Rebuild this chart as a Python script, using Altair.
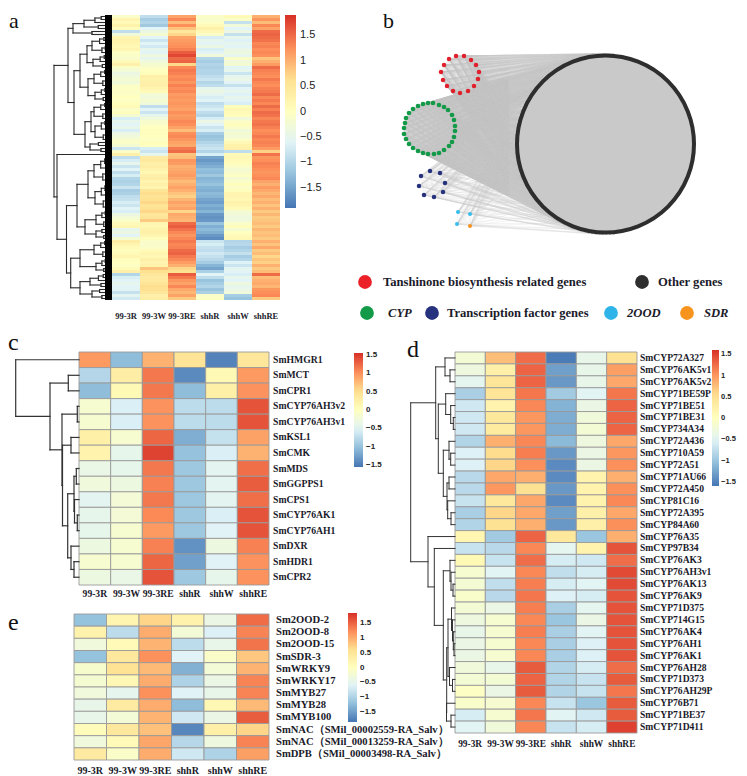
import math
import altair as alt
import pandas as pd

W, H = 731, 768
COLS = ["99-3R", "99-3W", "99-3RE", "shhR", "shhW", "shhRE"]
RAMP = ["#4575B4", "#91BFDB", "#E0F3F8", "#FFFFBF", "#FEE090", "#FC8D59", "#D73027"]
SERIF = "Liberation Serif"
SANS = "Liberation Sans"
LINE = "#333333"

# ---------- panel a : six columns, top to bottom ----------
a_c1 = [-.1,.2,.1,.25,.05,-.9,-.3,.2,.25,.2,
        .15,.2,-.05,-.1,-.15,.1,.3,-.1,-.25,-.4,
        -.3,-.2,-.3,-.1,-.05,-.1,-.05,0,-.05,.05,
        .1,-.1,.05,-.2,-.7,-.5,-.6,-.5,-.7,-.4,
        -.3,-.15,-.1,-.2,-.8,-.1,.3,-.9,-.7,-.5,
        -.8,-.6,-.9,-.7,-1.0,-1.05,-1.0,-.8,-1.1,-1.05,
        -.9,-.85,-.7,-.8,-.6,-.7,-.4,-.25,-.1,.1,
        .15,-.5,-.4,-.6,-.2,.35,.2,.1,.05,.1,
        .2,.05,0,-.05,.1,.3,-1.0,-.7,-.6,-.5,
        -.6,-.6,-.85,-.55,-.75]
a_c2 = [-.9,-1.1,-1.0,-1.15,-.6,-.4,-.2,-.6,-.8,-.6,
        -.75,-.5,-.6,-.35,-.5,-.3,-.2,-.1,0,.05,
        .3,.25,.3,.3,.2,.1,-.25,-.3,-.2,-.3,
        -.9,-.6,-.8,-.5,-.3,-.15,-.1,0,.05,.05,
        0,-.05,.05,0,-.7,-.8,-.5,.4,.45,.3,
        .35,.25,.15,.3,.35,.2,.3,.2,.55,.65,
        .55,.6,.7,.55,.6,.7,.5,.55,.8,.2,
        .15,.25,.3,.2,.05,-.1,-.15,-.1,.1,.2,
        .15,.3,.2,.25,.85,.6,.5,.4,.45,.55,
        .65,.6,.5,.3,.35]
a_c3 = [1.1,1.3,.9,1.25,.85,.5,.7,1.1,1.15,1.2,
        1.25,1.35,1.6,1.75,1.5,1.55,.7,1.3,1.4,1.35,
        1.25,1.3,1.2,1.35,1.25,1.3,1.15,1.2,1.15,1.2,
        1.15,1.1,1.25,1.15,1.2,1.3,1.25,1.1,.9,1.25,
        1.3,1.2,1.1,1.05,1.4,1.5,.85,.9,1.2,1.15,
        1.0,1.05,1.1,1.15,1.05,.9,1.0,1.1,1.0,.85,
        .75,.95,1.1,1.0,1.1,.7,1.05,1.0,.95,1.5,
        1.6,1.45,1.3,1.2,1.3,1.4,1.3,1.35,1.5,1.55,
        1.4,1.3,1.15,1.0,.7,.6,1.6,1.4,1.2,1.1,
        1.3,1.05,.95,1.1,.8]
a_c4 = [-.1,-.15,-.05,.1,.3,.15,-.1,-.7,-.5,-.6,
        -.4,-.7,-.6,-.3,-1.0,-1.1,-1.0,-1.05,-1.0,-1.0,
        -.9,-.8,-1.0,-.9,-.5,-.4,-.55,-.7,-.6,-.9,
        -.8,-.7,-.9,-1.0,-.7,-.4,-.6,-.8,-.7,-1.1,
        -1.2,-1.15,-1.0,-.9,-.8,-1.0,-.7,-1.5,-1.6,-1.5,
        -1.4,-1.25,-1.3,-1.15,-1.35,-1.3,-1.2,-1.35,-1.4,-1.3,
        -1.35,-1.5,-1.55,-1.4,-1.5,-1.35,-1.6,-1.65,-1.6,-1.2,
        -1.4,-1.3,-1.4,-1.6,-1.7,-.8,-.7,-.85,-.9,-.75,
        -.85,-.95,-1.1,-1.35,-1.5,-1.05,-.6,-.9,-1.2,-1.1,
        -1.0,-1.2,-1.05,-.1,-.05]
a_c5 = [.1,-.1,-.85,-.3,-.6,-.4,-.85,-.5,-.65,-.5,
        -.6,-.45,-.35,-.5,-.1,-.3,-.2,-.6,-.5,-.8,
        -.5,-.45,-.6,-.85,-.6,-.5,-.65,-.5,-.6,-.7,
        .05,.15,.1,.05,-.3,-.1,.05,-.1,-.3,-.2,
        -.25,-.1,.15,.25,.3,-.9,.1,.15,.1,.05,
        -.1,-.2,-.15,-.05,-.2,-.1,.05,-.1,.05,.2,
        .2,.15,.25,.2,.1,-.2,-.3,-.35,-.3,-.1,
        .05,-.2,0,.1,.15,-1.0,-.95,-1.1,-1.0,-.85,
        -1.1,-1.0,-.65,-.8,-.55,-.6,-.7,-.5,-.6,-.35,
        -.5,-.45,-.3,-1.1,-1.2]
a_c6 = [1.0,1.2,.9,1.3,1.1,1.5,1.55,1.5,1.45,1.3,
        1.35,1.25,1.3,1.25,.85,1.0,1.15,1.5,1.35,1.3,
        1.25,1.4,1.3,1.25,1.35,1.4,1.5,1.3,1.4,1.3,
        1.5,1.35,1.5,1.45,1.3,1.4,1.45,1.35,1.25,1.3,
        1.4,1.3,1.35,1.3,1.15,.75,1.45,1.2,1.25,1.35,
        1.3,1.25,1.2,1.25,1.3,1.1,1.0,1.15,1.05,.95,
        1.05,.9,1.0,.85,1.0,.8,.95,.8,.85,.9,
        .8,.95,.85,.9,.8,1.0,.85,1.05,.8,.9,
        .7,.85,.75,1.0,.8,.9,1.5,.9,1.0,1.05,
        .95,1.2,1.25,1.3,.8]

# ---------- panel c ----------
c_genes = ["SmHMGR1","SmMCT","SmCPR1","SmCYP76AH3v2","SmCYP76AH3v1","SmKSL1","SmCMK","SmMDS",
           "SmGGPPS1","SmCPS1","SmCYP76AK1","SmCYP76AH1","SmDXR","SmHDR1","SmCPR2"]
c_vals = [[.95,-1.05,.8,.45,-1.45,.4],[-.8,.3,1.15,-1.4,.1,.95],[-1.05,.1,1.15,-1.05,.25,1.0],
          [-.15,-.55,1.0,-.75,-.75,1.35],[-.15,-.55,1.0,-.75,-.75,1.35],[.25,-.15,1.25,-1.15,-.7,.9],
          [.2,-.4,1.45,-1.0,-.55,.8],[-.35,-.4,1.15,-.95,-.45,1.2],[-.25,-.3,1.1,-.95,-.45,1.3],
          [-.45,-.2,1.15,-.95,-.45,1.2],[-.4,-.2,1.05,-.95,-.55,1.35],[-.4,-.15,.95,-.95,-.5,1.35],
          [-.3,-.15,1.1,-1.35,-.3,1.1],[-.15,-.15,1.25,-1.25,-.5,1.0],[-.3,-.35,1.35,-.95,-.4,1.0]]

# ---------- panel d ----------
d_genes = ["SmCYP72A327","SmCYP76AK5v1","SmCYP76AK5v2","SmCYP71BE59P","SmCYP71BE51","SmCYP71BE31",
           "SmCYP734A34","SmCYP72A436","SmCYP710A59","SmCYP72A51","SmCYP71AU66","SmCYP72A450",
           "SmCYP81C16","SmCYP72A395","SmCYP84A60","SmCYP76A35","SmCYP97B34","SmCYP76AK3",
           "SmCYP76AH3v1","SmCYP76AK13","SmCYP76AK9","SmCYP71D375","SmCYP714G15","SmCYP76AK4",
           "SmCYP76AH1","SmCYP76AK1","SmCYP76AH28","SmCYP71D373","SmCYP76AH29P","SmCYP76B71",
           "SmCYP71BE37","SmCYP71D411"]
d_vals = [[-.2,.75,1.25,-1.55,-.4,.5],[-.3,.25,1.3,-1.3,-.4,.95],[-.45,.45,1.3,-1.35,-.4,.9],
          [-.9,.45,1.2,-.95,-.5,1.2],[-.65,.2,1.1,-1.15,-.35,1.3],[-.65,.4,1.0,-1.2,-.25,1.3],
          [-.65,.35,1.0,-1.2,-.2,1.3],[-.85,.85,1.1,-1.1,-.3,.9],[-.55,.55,1.15,-1.35,-.35,1.0],
          [-.55,.6,1.05,-1.45,-.35,1.05],[-.8,.9,.85,-1.45,.2,.85],[-.8,1.0,.5,-1.35,.2,1.05],
          [-.7,.4,.9,-1.45,.2,1.1],[-.9,.6,.9,-1.3,.25,.9],[-.85,.5,.85,-1.35,.25,1.05],
          [.15,-.95,1.3,.4,-1.0,.85],[-.7,-.8,1.1,-.45,.2,1.4],[.1,-.7,1.25,-.6,-.65,1.25],
          [-.15,-.5,1.1,-.75,-.6,1.45],[-.2,-.75,1.15,-.6,-.5,1.45],[-.1,-.8,1.2,-.55,-.6,1.4],
          [-.2,-.35,1.15,-.9,-.45,1.4],[-.3,-.15,1.1,-1.0,-.35,1.4],[-.4,-.15,1.15,-.9,-.5,1.4],
          [-.35,-.15,1.1,-.9,-.55,1.4],[-.35,-.15,1.1,-.9,-.55,1.4],[-.25,-.4,1.35,-.85,-.6,1.25],
          [-.2,-.2,1.3,-.85,-.7,1.35],[-.05,-.35,1.35,-.85,-.7,1.2],[-.1,-.15,1.1,-.7,-1.0,1.35],
          [-.6,-.15,1.2,-.5,-.65,1.35],[-.5,-.25,1.1,-.7,-.6,1.5]]

# ---------- panel e ----------
e_genes = ["Sm2OOD-2","Sm2OOD-8","Sm2OOD-15","SmSDR-3","SmWRKY9","SmWRKY17","SmMYB27","SmMYB28","SmMYB100",
           "SmNAC（SMil_00002559-RA_Salv）","SmNAC（SMil_00013259-RA_Salv）","SmDPB（SMil_00003498-RA_Salv）"]
e_vals = [[-1.2,.2,.7,.25,-.4,1.45],[.25,-.9,1.0,-.25,-.65,1.3],[-.3,.1,.95,-.9,-.45,1.4],
          [-1.2,.45,1.2,-.6,-.1,.8],[-.15,.55,.9,-1.35,-.25,.95],[-.2,.15,1.0,-1.0,-.4,1.3],
          [-.3,-.5,1.2,-.6,-.45,1.3],[-.45,.4,1.0,-1.25,.15,.9],[-.45,-.25,.95,-.75,-.4,1.55],
          [.05,.45,.85,-1.7,.3,.7],[-.3,.1,1.05,-.95,-.35,1.3],[.4,-.1,1.0,-.75,-1.0,1.1]]

# ---------- panel b : node positions ----------
red_x = [456,464,471,476,479,478,474,468,460,453,447,443,441,444,449]
red_y = [56,56,60,65,72,79,86,91,93,91,86,80,72,65,59]
green_x = [428,433,439,444,448,452,454,455,455,454,452,449,444,439,434,428,423,418,413,409,406,404,404,405,406,409,413,418,423]
green_y = [103,103,105,107,110,115,120,126,131,137,142,146,150,153,154,154,153,151,148,144,139,134,128,123,118,113,109,106,104]
navy_x = [430,440,445,443,434,424,419,421]
navy_y = [171,173,183,192,197,195,186,176]
cyan_x = [458,470,457]
cyan_y = [212,214,224]
orange_x = [470]
orange_y = [226]
hub = [605.5, 144, 90.5]

legend_dots_x = [365, 642, 367, 432, 611, 687]
legend_dots_y = [282, 282, 313, 313, 313, 313]
legend_dots_c = ["#EC2027", "#2E2E2E", "#129A48", "#27327F", "#2FB4E9", "#F7941D"]
legend_txt_x = [383, 658, 447]
legend_txt_y = [282, 282, 313]
legend_txt = ["Tanshinone biosynthesis related genes", "Other genes", "Transcription factor genes"]
legend_it_x = [388, 627, 704]
legend_it_y = [313, 313, 313]
legend_it = ["CYP", "2OOD", "SDR"]

top_letters = ["a", "b"]
top_letters_x = [9, 383]
top_letters_y = [28, 28]
letters = ["c", "d", "e"]
letters_x = [8, 407, 8]
letters_y = [350, 357, 630]

# ---------- canvas scale: numbers above are in reference pixels ----------
CX = alt.Scale(domain=[8, 8 + W], range=[0, W])
CY = alt.Scale(domain=[8, 8 + H], range=[0, H])
def cx(f="x"): return alt.X(f, type="quantitative", scale=CX, axis=None)
def cy(f="y"): return alt.Y(f, type="quantitative", scale=CY, axis=None)

layers = []

def stops(m):
    return [-m, -2*m/3, -m/3, 0, m/3, 2*m/3, m]

def heat(vals_by_row, rows, box, m, bar, ticks, stroke=None, lab=None, lab_size=9.5, col_y=None, col_size=9.5,
         leg_size=8, leg_weight="bold", leg_off=3):
    x0, x1, y0, y1 = box
    recs = [dict(r=str(rows[i]), c=COLS[j], v=vals_by_row[i][j]) for i in range(len(rows)) for j in range(6)]
    df = pd.DataFrame(recs)
    xs = alt.Scale(domain=COLS, range=[x0-8, x1-8], paddingInner=0, paddingOuter=0)
    ys = alt.Scale(domain=[str(r) for r in rows], range=[y0-8, y1-8], paddingInner=0, paddingOuter=0)
    mk = dict(stroke=stroke, strokeWidth=0.9) if stroke else {}
    layers.append(alt.Chart(df).mark_rect(**mk).encode(
        x=alt.X("c:N", scale=xs, axis=None),
        y=alt.Y("r:N", scale=ys, axis=None),
        color=alt.Color("v:Q",
            scale=alt.Scale(domain=stops(m), range=RAMP, interpolate="rgb"),
            legend=alt.Legend(orient="none", legendX=bar[0]-8, legendY=bar[2]-8, direction="vertical",
                              gradientThickness=bar[1]-bar[0], gradientLength=bar[3]-bar[2],
                              title=None, values=ticks, format=".2~f", labelFont=SANS, labelFontSize=leg_size,
                              labelFontWeight=leg_weight, labelColor="#222222", labelOverlap=False,
                              labelOffset=leg_off, gradientStrokeWidth=0, padding=0))))
    if lab is not None:
        ldf = pd.DataFrame(dict(r=[str(r) for r in rows]))
        layers.append(alt.Chart(ldf).mark_text(font=SERIF, fontWeight="bold", fontSize=lab_size, align="left",
                                               baseline="middle", color="#1a1a2a").encode(
            x=alt.value(lab-8), y=alt.Y("r:N", scale=ys, axis=None), text="r:N"))
    cdf = pd.DataFrame(dict(c=COLS))
    layers.append(alt.Chart(cdf).mark_text(font=SERIF, fontWeight="bold", fontSize=col_size, align="center",
                                           baseline="middle", color="#1a1a2a").encode(
        x=alt.X("c:N", scale=xs, axis=None), y=alt.value(col_y-8), text="c:N"))

def tree_layer(tree, n, leaf_x, y0, y1, width=1.2, color=LINE):
    segs = []
    def walk(node):
        if isinstance(node, int):
            return node + 0.5, leaf_x
        x, a, b = node
        ya, xa = walk(a)
        yb, xb = walk(b)
        segs.append(dict(x=x, x2=xa, y=ya, y2=ya))
        segs.append(dict(x=x, x2=xb, y=yb, y2=yb))
        segs.append(dict(x=x, x2=x, y=ya, y2=yb))
        return (ya + yb) / 2, x
    walk(tree)
    ys = alt.Scale(domain=[0, n], range=[y0-8, y1-8])
    return alt.Chart(pd.DataFrame(segs)).mark_rule(strokeWidth=width, color=color, strokeCap="square").encode(
        x=cx(), x2="x2:Q",
        y=alt.Y("y:Q", scale=ys, axis=None), y2="y2:Q")

# ---- dendrogram a
def B(i0, i1, x, leaf=110):
    if i0 == i1:
        return i0
    mid = (i0 + i1) // 2
    return (x, B(i0, mid, x + (leaf - x) * 0.42), B(mid + 1, i1, x + (leaf - x) * 0.55))

a_tree = (54,
    (68, (73, B(0,4,84), B(5,6,92)),
         (74, (80, (87, B(7,12,92), B(13,17,93)), (88, B(18,23,94), B(24,28,95))),
              (85, (91, B(29,34,94), B(35,41,95)), B(42,45,90)))),
    (57, 46,
        (66.5, (77, (88, B(47,55,94), B(56,64,95)), (85, B(65,70,96), B(71,74,96))),
               (70.7, (80, B(75,80,94), B(81,85,96)), (80, B(86,90,90), B(91,94,92))))))

c_tree = (15.7, 0,
    (50, (68.3, 1, 2),
         (62, (77.3, 3, 4),
              (62.5, (71, 5, 6),
                     (67.7, (74, (76.3, 7, 8), (74.5, 9, (77.3, 10, 11))),
                            (71, 12, (74, 13, 14)))))))

d_tree = (410.7,
    (435.7, (445, 0, (450, 1, 2)),
            (438.3, (445.7, 3, (450.7, 4, (453.3, 5, 6))),
                    (443.3, (449, 7, (450.7, 8, 9)),
                            (447, (449, 10, 11), (447.7, 12, (451, 13, 14)))))),
    (428, 15,
        (434.3, 16,
            (443.3, (450, 17, (451, 18, (453, 19, 20))),
                    (446.7, (448, (451.5, 21, (452.5, 22, (453.3, 23, (454, 24, 25)))),
                                  (449.5, 26, (452.5, 27, 28))),
                            (446.5, 29, (451, 30, 31)))))))

# ---- network
strong = list(zip(red_x, red_y)) + list(zip(green_x, green_y))
weak = list(zip(navy_x, navy_y)) + list(zip(cyan_x, cyan_y)) + list(zip(orange_x, orange_y))
targets = []
for k in range(84):
    a = math.pi * (0.47 + 1.06 * k / 83)
    targets.append((hub[0] + hub[2] * math.cos(a), hub[1] - hub[2] * math.sin(a)))
edges_s = [dict(x=sx, y=sy, x2=tx, y2=ty) for sx, sy in strong for tx, ty in targets]
edges_w = [dict(x=sx, y=sy, x2=tx, y2=ty) for sx, sy in weak for tx, ty in targets[::4]]
layers.append(alt.Chart(pd.DataFrame(edges_w)).mark_rule(strokeWidth=0.3, color="#c8c8c8", opacity=0.7).encode(
    x=cx(), x2="x2:Q", y=cy(), y2="y2:Q"))
layers.append(alt.Chart(pd.DataFrame(edges_s)).mark_rule(strokeWidth=0.3, color="#c8c8c8", opacity=0.5).encode(
    x=cx(), x2="x2:Q", y=cy(), y2="y2:Q"))
inner = []
for grp in (list(zip(red_x, red_y)), list(zip(green_x, green_y)), list(zip(navy_x, navy_y)),
            list(zip(cyan_x, cyan_y)) + list(zip(orange_x, orange_y))):
    for i, p in enumerate(grp):
        for q in grp[i+1:]:
            inner.append(dict(x=p[0], y=p[1], x2=q[0], y2=q[1]))
layers.append(alt.Chart(pd.DataFrame(inner)).mark_rule(strokeWidth=0.3, color="#c8c8c8", opacity=0.6).encode(
    x=cx(), x2="x2:Q", y=cy(), y2="y2:Q"))
layers.append(alt.Chart(pd.DataFrame(dict(x=[hub[0]], y=[hub[1]]))).mark_point(
    shape="circle", filled=True, fill="#c9c9c9", stroke="#2e2e2e", strokeWidth=4, opacity=1,
    size=(2 * (hub[2] - 2)) ** 2).encode(x=cx(), y=cy()))
for xs_, ys_, col, sz in ((red_x, red_y, "#E2202C", 20), (green_x, green_y, "#129A48", 22),
                          (navy_x, navy_y, "#27327F", 20), (cyan_x, cyan_y, "#35BDEE", 16),
                          (orange_x, orange_y, "#F7941D", 16)):
    layers.append(alt.Chart(pd.DataFrame(dict(x=xs_, y=ys_))).mark_point(
        shape="circle", filled=True, color=col, opacity=1, size=sz).encode(x=cx(), y=cy()))

# legend of b
layers.append(alt.Chart(pd.DataFrame(dict(x=legend_dots_x, y=legend_dots_y, c=legend_dots_c))).mark_point(
    shape="circle", filled=True, opacity=1, size=190).encode(
    x=cx(), y=cy(), color=alt.Color("c:N", scale=None)))
layers.append(alt.Chart(pd.DataFrame(dict(x=legend_txt_x, y=legend_txt_y, t=legend_txt))).mark_text(
    font=SERIF, fontWeight="bold", fontSize=12.6, align="left", baseline="middle", color="#1a1a2a").encode(
    x=cx(), y=cy(), text="t:N"))
layers.append(alt.Chart(pd.DataFrame(dict(x=legend_it_x, y=legend_it_y, t=legend_it))).mark_text(
    font=SERIF, fontWeight="bold", fontStyle="italic", fontSize=12.6, align="left", baseline="middle",
    color="#1a1a2a").encode(x=cx(), y=cy(), text="t:N"))
layers.append(alt.Chart(pd.DataFrame(dict(x=top_letters_x, y=top_letters_y, t=top_letters))).mark_text(
    font=SERIF, fontSize=22, align="left", baseline="alphabetic", color="#111111").encode(
    x=cx(), y=cy(), text="t:N"))
layers.append(alt.Chart(pd.DataFrame(dict(x=letters_x, y=letters_y, t=letters))).mark_text(
    font=SERIF, fontSize=24, align="left", baseline="alphabetic", color="#111111").encode(
    x=cx(), y=cy(), text="t:N"))

# panel a
a_rows = list(range(len(a_c1)))
a_vals = [list(t) for t in zip(a_c1, a_c2, a_c3, a_c4, a_c5, a_c6)]
heat(a_vals, a_rows, (112, 280, 15, 300), 1.9, (285, 296, 15, 208), [-1.5,-1,-.5,0,.5,1,1.5],
     col_y=316, col_size=8.5, leg_size=11, leg_weight="normal", leg_off=4)
layers.append(tree_layer(a_tree, 95, 110, 15, 300, width=1.1, color="#2a2a2a"))
comb = pd.DataFrame(dict(x=[105]*95, x2=[112]*95, y=[r + .5 for r in a_rows]))
layers.append(alt.Chart(comb).mark_rule(strokeWidth=3, color="#000000").encode(
    x=cx(), x2="x2:Q", y=alt.Y("y:Q", scale=alt.Scale(domain=[0, 95], range=[7, 292]), axis=None)))

# panel c
heat(c_vals, c_genes, (79, 269, 352, 585), 1.55, (354, 363, 353, 467), [-1.5,-1,-.5,0,.5,1,1.5],
     stroke="#9a9a9a", lab=273, lab_size=9.7, col_y=594, col_size=9.6)
layers.append(tree_layer(c_tree, 15, 79, 352, 585))

# panel d
heat(d_vals, d_genes, (455, 637, 352, 733), 1.6, (712, 719, 350, 486), [-1.5,-1,-.5,0,.5,1,1.5],
     stroke="#9a9a9a", lab=640, lab_size=9.6, col_y=744, col_size=9.4, leg_size=7.5, leg_off=2)
layers.append(tree_layer(d_tree, 32, 455, 352, 733, width=1.0))

# panel e
heat(e_vals, e_genes, (74, 269, 614, 760), 1.85, (348, 357, 613, 722), [-1.5,-1,-.5,0,.5,1,1.5],
     stroke="#9a9a9a", lab=276, lab_size=10.6, col_y=771, col_size=10)

chart = alt.layer(*layers).properties(
    width=W, height=H, padding=0, autosize=alt.AutoSizeParams(type="none"),
    background="white"
).resolve_scale(x="independent", y="independent", color="independent"
).configure_view(stroke=None)

chart.save("out.html", embed_options={"renderer": "svg", "actions": False})
